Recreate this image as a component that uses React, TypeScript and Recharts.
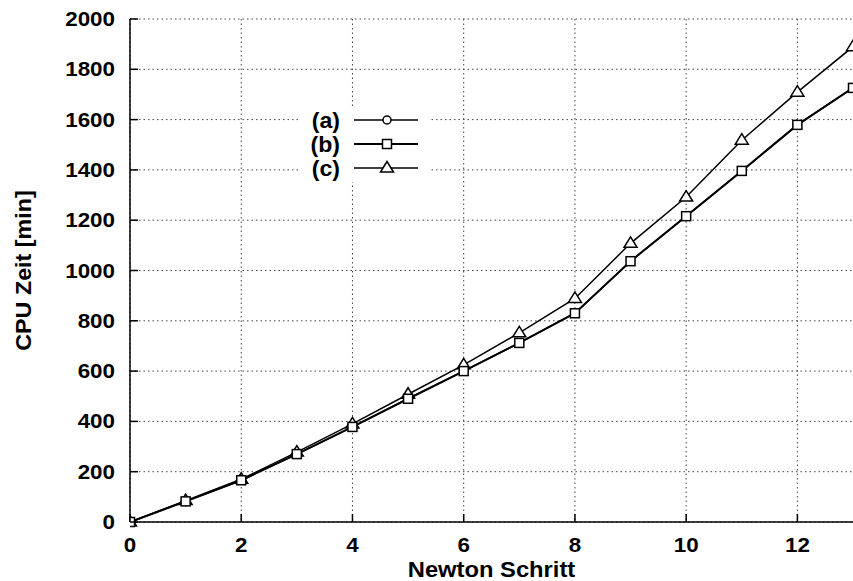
import React from 'react';
import { LineChart, Line, XAxis, YAxis, CartesianGrid } from 'recharts';

const steps = [0, 1, 2, 3, 4, 5, 6, 7, 8, 9, 10, 11, 12, 13];
const cpuA = [0, 82, 166, 270, 378, 490, 600, 712, 830, 1037, 1216, 1396, 1579, 1726];
const cpuB = [0, 82, 166, 270, 378, 490, 600, 712, 830, 1037, 1216, 1396, 1579, 1726];
const cpuC = [0, 85, 170, 278, 390, 508, 625, 752, 889, 1108, 1292, 1518, 1709, 1890];
const xTicks = [0, 2, 4, 6, 8, 10, 12];
const yTicks = [0, 200, 400, 600, 800, 1000, 1200, 1400, 1600, 1800, 2000];
const legendLabels = ['(a)', '(b)', '(c)'];

const data = steps.map((s, i) => ({ step: s, a: cpuA[i], b: cpuB[i], c: cpuC[i] }));

const FONT = 'Liberation Sans, Arial, sans-serif';

// bold text, a bit wider than Liberation Sans to look like the original Helvetica
const Txt = (props: any) => {
  const { x, y, size = 20, sx = 1.12, rotate = 0, anchor = 'middle', dy = '0', children } = props;
  return (
    <text
      transform={`translate(${x} ${y}) rotate(${rotate}) scale(${sx} 1)`}
      x={0}
      y={0}
      dy={dy}
      textAnchor={anchor}
      fontFamily={FONT}
      fontWeight="bold"
      fontSize={size}
      fill="#000"
    >
      {children}
    </text>
  );
};

const Circle = (props: any) => {
  const { cx, cy, index } = props;
  if (cx == null || cy == null) return null;
  return <circle key={`a${index}`} cx={cx} cy={cy} r={4} fill="#fff" stroke="#000" strokeWidth={1.5} />;
};

const Square = (props: any) => {
  const { cx, cy, index } = props;
  if (cx == null || cy == null) return null;
  return <rect key={`b${index}`} x={cx - 4.5} y={cy - 4.5} width={9} height={9} fill="#fff" stroke="#000" strokeWidth={1.5} />;
};

const Triangle = (props: any) => {
  const { cx, cy, index } = props;
  if (cx == null || cy == null) return null;
  const pts = `${cx},${cy - 6.5} ${cx - 6.5},${cy + 4} ${cx + 6.5},${cy + 4}`;
  return <polygon key={`c${index}`} points={pts} fill="#fff" stroke="#000" strokeWidth={1.5} />;
};

const markers = [Circle, Square, Triangle];

const YTick = (props: any) => {
  const { x, y, payload } = props;
  return (
    <g>
      <Txt x={x} y={y} dy="0.35em" anchor="end">{payload.value}</Txt>
      <line x1={x + 15} x2={x + 23} y1={y} y2={y} stroke="#000" strokeWidth={1.5} />
    </g>
  );
};

const XTick = (props: any) => {
  const { x, y, payload } = props;
  return (
    <g>
      <Txt x={x} y={y} dy="0.71em">{payload.value}</Txt>
      <line x1={x} x2={x} y1={y - 16} y2={y - 24} stroke="#000" strokeWidth={1.5} />
    </g>
  );
};

const TopTick = (props: any) => {
  const { x, y } = props;
  return <line x1={x} x2={x} y1={y} y2={y + 8} stroke="#000" strokeWidth={1.5} />;
};

const RightTick = (props: any) => {
  const { x, y } = props;
  return <line x1={x - 8} x2={x} y1={y} y2={y} stroke="#000" strokeWidth={1.5} />;
};

const Legend = () => (
  <div style={{ position: 'absolute', left: 300, top: 106, width: 130, height: 76, background: '#fff' }}>
    <svg width={130} height={76}>
      {legendLabels.map((lab, i) => {
        const y = 14 + i * 24;
        const M = markers[i];
        return (
          <g key={lab}>
            <Txt x={40} y={y} dy="0.35em" anchor="end" size={22} sx={1.05}>{lab}</Txt>
            <line x1={54} x2={118} y1={y} y2={y} stroke="#000" strokeWidth={i === 1 ? 2 : 1.5} />
            <M cx={87} cy={y} index={i} />
          </g>
        );
      })}
    </svg>
  </div>
);

export default function App() {
  return (
    <div style={{ position: 'absolute', left: 0, top: 0, width: 853, height: 581, background: '#fff' }}>
      <LineChart width={853} height={581} data={data} margin={{ top: 19, right: 0, bottom: 0, left: 0 }}>
        <CartesianGrid stroke="#444" strokeDasharray="1.5 3" strokeWidth={1} verticalValues={xTicks} horizontalValues={yTicks} />
        <XAxis
          dataKey="step"
          type="number"
          domain={[0, 13]}
          ticks={xTicks}
          allowDataOverflow
          height={59}
          tickSize={0}
          tickMargin={16}
          tick={<XTick />}
          axisLine={{ stroke: '#000', strokeWidth: 1.5 }}
          label={{
            content: (p: any) => {
              const vb = p.viewBox;
              return (
                <Txt x={vb.x + vb.width / 2} y={vb.y + 55} size={22} sx={1.08}>
                  Newton Schritt
                </Txt>
              );
            },
          }}
        />
        <XAxis
          xAxisId="top"
          orientation="top"
          type="number"
          domain={[0, 13]}
          ticks={xTicks}
          height={0}
          tickSize={0}
          tick={<TopTick />}
          axisLine={{ stroke: '#000', strokeWidth: 1.5 }}
        />
        <YAxis
          type="number"
          domain={[0, 2000]}
          ticks={yTicks}
          width={130}
          tickSize={0}
          tickMargin={15}
          tick={<YTick />}
          axisLine={{ stroke: '#000', strokeWidth: 1.5 }}
          label={{
            content: (p: any) => {
              const vb = p.viewBox;
              return (
                <Txt x={23} y={vb.y + vb.height / 2} rotate={-90} dy="0.35em" size={22} sx={1.06}>
                  CPU Zeit [min]
                </Txt>
              );
            },
          }}
        />
        <YAxis
          yAxisId="right"
          orientation="right"
          type="number"
          domain={[0, 2000]}
          ticks={yTicks}
          width={0}
          tickSize={0}
          tickMargin={0}
          tick={<RightTick />}
          axisLine={false}
        />
        <Line dataKey="a" stroke="#000" strokeWidth={1.5} dot={<Circle />} isAnimationActive={false} />
        <Line dataKey="c" stroke="#000" strokeWidth={1.5} dot={<Triangle />} isAnimationActive={false} />
        <Line dataKey="b" stroke="#000" strokeWidth={2} dot={<Square />} isAnimationActive={false} />
      </LineChart>
      <Legend />
    </div>
  );
}
